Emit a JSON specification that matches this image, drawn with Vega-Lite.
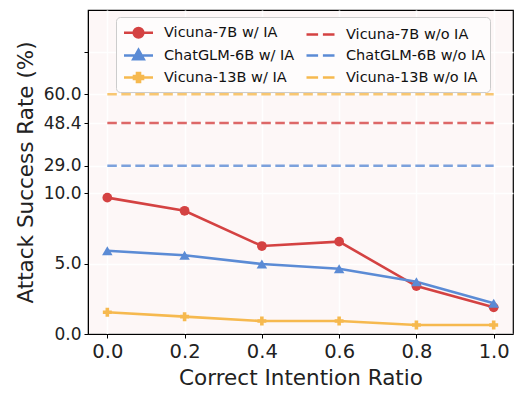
{
  "$schema": "https://vega.github.io/schema/vega-lite/v6.json",
  "width": 425,
  "height": 324,
  "autosize": {"type": "none"},
  "padding": {"left": 88, "top": 10, "right": 3, "bottom": 60},
  "config": {
    "font": "DejaVu Sans",
    "view": {"fill": "#fdf7f7", "stroke": "#000000", "strokeWidth": 1.2},
    "axis": {
      "domainColor": "#000000",
      "tickColor": "#000000",
      "tickSize": 4,
      "tickWidth": 1,
      "labelColor": "#222222",
      "titleColor": "#222222",
      "titleFontWeight": "normal",
      "gridColor": "#ffffff",
      "gridWidth": 1.6,
      "gridOpacity": 1,
      "labelFont": "DejaVu Sans",
      "titleFont": "DejaVu Sans"
    },
    "legend": {
      "orient": "none",
      "legendX": 28,
      "legendY": 7,
      "columns": 2,
      "labelFontSize": 14.5,
      "labelFont": "DejaVu Sans",
      "labelColor": "#111111",
      "symbolSize": 400,
      "symbolStrokeWidth": 2.6,
      "symbolOpacity": 1,
      "labelOffset": 14,
      "columnPadding": 6,
      "rowPadding": 1,
      "padding": 4,
      "fillColor": "#fefcfc",
      "strokeColor": "#cccccc",
      "cornerRadius": 4,
      "symbolOffset": 7
    }
  },
  "datasets": {
    "main": [
      {"ratio": 0.0, "rate": 9.67, "series": "Vicuna-7B w/ IA", "kind": "w"},
      {"ratio": 0.2, "rate": 8.74, "series": "Vicuna-7B w/ IA", "kind": "w"},
      {"ratio": 0.4, "rate": 6.24, "series": "Vicuna-7B w/ IA", "kind": "w"},
      {"ratio": 0.6, "rate": 6.55, "series": "Vicuna-7B w/ IA", "kind": "w"},
      {"ratio": 0.8, "rate": 3.4, "series": "Vicuna-7B w/ IA", "kind": "w"},
      {"ratio": 1.0, "rate": 1.89, "series": "Vicuna-7B w/ IA", "kind": "w"},
      {"ratio": 0.0, "rate": 5.9, "series": "ChatGLM-6B w/ IA", "kind": "w"},
      {"ratio": 0.2, "rate": 5.58, "series": "ChatGLM-6B w/ IA", "kind": "w"},
      {"ratio": 0.4, "rate": 4.96, "series": "ChatGLM-6B w/ IA", "kind": "w"},
      {"ratio": 0.6, "rate": 4.63, "series": "ChatGLM-6B w/ IA", "kind": "w"},
      {"ratio": 0.8, "rate": 3.71, "series": "ChatGLM-6B w/ IA", "kind": "w"},
      {"ratio": 1.0, "rate": 2.18, "series": "ChatGLM-6B w/ IA", "kind": "w"},
      {"ratio": 0.0, "rate": 1.54, "series": "Vicuna-13B w/ IA", "kind": "w"},
      {"ratio": 0.2, "rate": 1.23, "series": "Vicuna-13B w/ IA", "kind": "w"},
      {"ratio": 0.4, "rate": 0.92, "series": "Vicuna-13B w/ IA", "kind": "w"},
      {"ratio": 0.6, "rate": 0.92, "series": "Vicuna-13B w/ IA", "kind": "w"},
      {"ratio": 0.8, "rate": 0.64, "series": "Vicuna-13B w/ IA", "kind": "w"},
      {"ratio": 1.0, "rate": 0.64, "series": "Vicuna-13B w/ IA", "kind": "w"},
      {"ratio": 0.0, "rate": 48.4, "series": "Vicuna-7B w/o IA", "kind": "wo"},
      {"ratio": 1.0, "rate": 48.4, "series": "Vicuna-7B w/o IA", "kind": "wo"},
      {"ratio": 0.0, "rate": 29.0, "series": "ChatGLM-6B w/o IA", "kind": "wo"},
      {"ratio": 1.0, "rate": 29.0, "series": "ChatGLM-6B w/o IA", "kind": "wo"},
      {"ratio": 0.0, "rate": 60.0, "series": "Vicuna-13B w/o IA", "kind": "wo"},
      {"ratio": 1.0, "rate": 60.0, "series": "Vicuna-13B w/o IA", "kind": "wo"}
    ]
  },
  "data": {"name": "main"},
  "encoding": {
    "x": {
      "field": "ratio",
      "type": "quantitative",
      "scale": {"domain": [-0.05, 1.05], "nice": false, "zero": false},
      "axis": {
        "values": [0, 0.2, 0.4, 0.6, 0.8, 1.0],
        "format": ".1f",
        "title": "Correct Intention Ratio",
        "labelFontSize": 19.5,
        "titleFontSize": 21.5,
        "labelPadding": 4,
        "titlePadding": 7,
        "labelFlush": false
      }
    },
    "y": {
      "field": "rate",
      "type": "quantitative",
      "scale": {
        "domain": [0, 10, 29, 48.4, 60, 75, 90],
        "range": [324, 183, 155.7, 113, 84.3, 41.7, 0],
        "nice": false,
        "zero": false
      },
      "axis": {
        "values": [0, 5, 10, 29, 48.4, 60, 75],
        "format": ".1f",
        "labelExpr": "datum.value == 75 ? '' : datum.label",
        "title": "Attack Success Rate (%)",
        "labelFontSize": 17,
        "titleFontSize": 21.5,
        "labelPadding": 3,
        "titlePadding": 6,
        "labelFlush": false
      }
    },
    "color": {
      "field": "series",
      "type": "nominal",
      "title": null,
      "scale": {
        "domain": ["Vicuna-7B w/ IA", "ChatGLM-6B w/ IA", "Vicuna-13B w/ IA", "Vicuna-7B w/o IA", "ChatGLM-6B w/o IA", "Vicuna-13B w/o IA"],
        "range": ["#d44242", "#5b8bd5", "#f6b94f", "#d44242", "#5b8bd5", "#f6b94f"]
      },
      "legend": {
        "encode": {
          "symbols": {
            "update": {
              "stroke": {"scale": "color", "field": "value"},
              "fill": {"scale": "color", "field": "value"},
              "shape": {"scale": "shape", "field": "value"},
              "strokeDash": {"value": []},
              "opacity": {"value": 1}
            }
          }
        }
      }
    }
  },
  "layer": [
    {
      "transform": [{"filter": "datum.kind == 'wo'"}],
      "mark": {"type": "line", "strokeWidth": 2.6, "strokeDash": [9.5, 4.5], "opacity": 0.8},
      "encoding": {"detail": {"field": "series"}}
    },
    {
      "transform": [{"filter": "datum.kind == 'w'"}],
      "mark": {"type": "line", "strokeWidth": 2.6},
      "encoding": {"detail": {"field": "series"}}
    },
    {
      "transform": [{"filter": "datum.series == 'Vicuna-7B w/ IA'"}],
      "mark": {"type": "point", "filled": true, "shape": "circle", "size": 95, "opacity": 1}
    },
    {
      "transform": [{"filter": "datum.series == 'ChatGLM-6B w/ IA'"}],
      "mark": {"type": "point", "filled": true, "shape": "triangle-up", "size": 110, "opacity": 1}
    },
    {
      "transform": [{"filter": "datum.series == 'Vicuna-13B w/ IA'"}],
      "mark": {"type": "point", "filled": true, "shape": "cross", "size": 80, "opacity": 1}
    },
    {
      "mark": {"type": "point", "filled": true, "opacity": 0},
      "encoding": {
        "shape": {
          "field": "series",
          "type": "nominal",
          "title": null,
          "scale": {
            "domain": ["Vicuna-7B w/ IA", "ChatGLM-6B w/ IA", "Vicuna-13B w/ IA", "Vicuna-7B w/o IA", "ChatGLM-6B w/o IA", "Vicuna-13B w/o IA"],
            "range": [
              "M-1.45,0H1.45M0.48,0A0.48,0.48 0 1,1 -0.48,0A0.48,0.48 0 1,1 0.48,0Z",
              "M-1.45,0H1.45M0,-0.55L0.52,0.38L-0.52,0.38Z",
              "M-1.45,0H1.45M-0.15,-0.45H0.15V-0.15H0.45V0.15H0.15V0.45H-0.15V0.15H-0.45V-0.15H-0.15Z",
              "M-1.4,0H-0.24M0.24,0H1.4",
              "M-1.4,0H-0.24M0.24,0H1.4",
              "M-1.4,0H-0.24M0.24,0H1.4"
            ]
          },
          "legend": {
            "encode": {
              "symbols": {
                "update": {
                  "stroke": {"scale": "color", "field": "value"},
                  "fill": {"scale": "color", "field": "value"},
                  "shape": {"scale": "shape", "field": "value"},
                  "strokeDash": {"value": []},
                  "opacity": {"value": 1}
                }
              }
            }
          }
        }
      }
    }
  ]
}
